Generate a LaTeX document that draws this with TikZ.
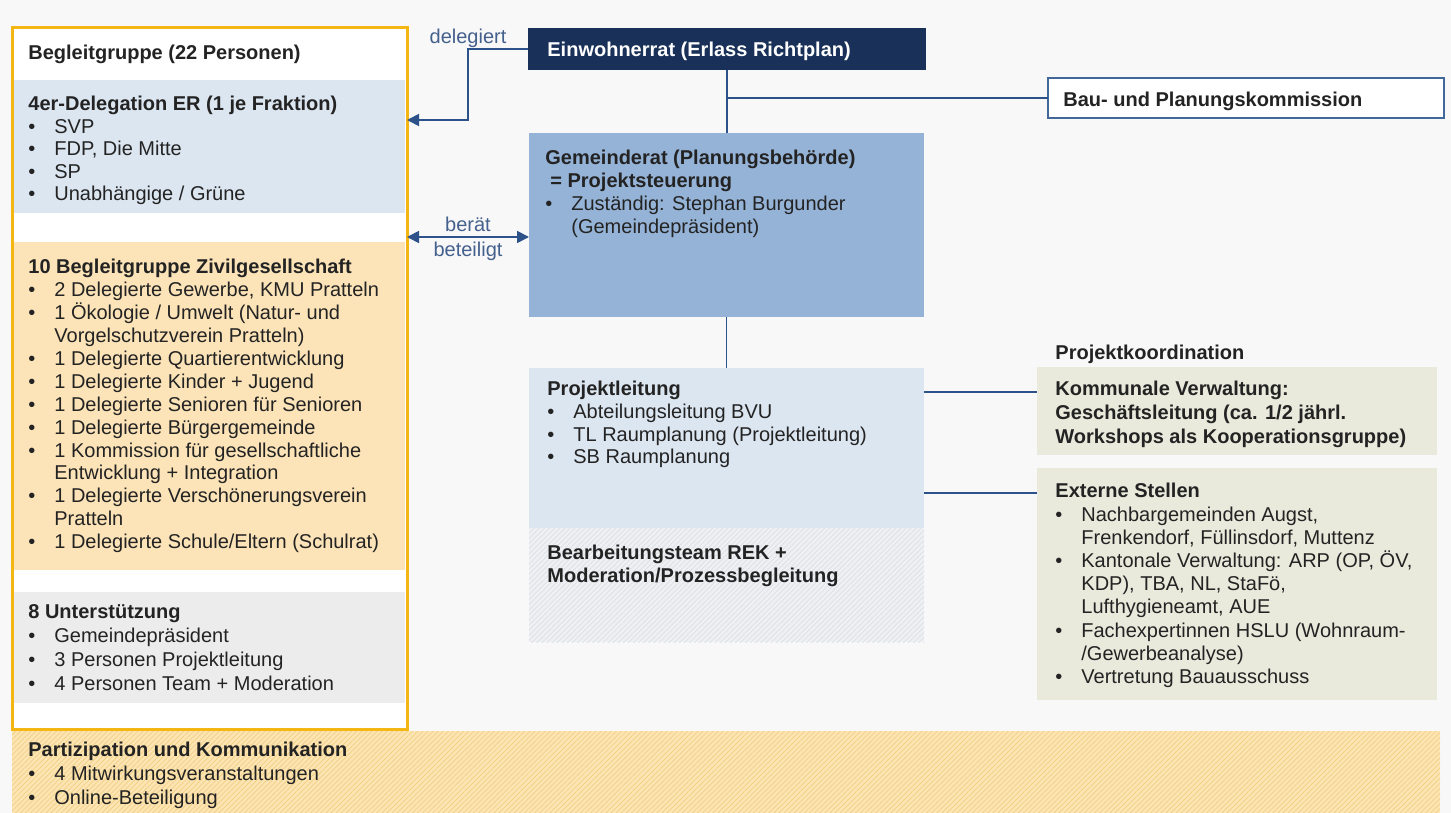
\documentclass[tikz,border=0pt]{standalone}
\usepackage{fontspec}
\setmainfont{Liberation Sans}
\usetikzlibrary{arrows.meta,patterns.meta}

\definecolor{hinter}{RGB}{248,248,249}
\definecolor{gelb}{RGB}{244,182,18}
\definecolor{navy}{RGB}{25,49,88}
\definecolor{mittelblau}{RGB}{149,179,215}
\definecolor{hellblau}{RGB}{220,230,241}
\definecolor{hellorange}{RGB}{252,228,184}
\definecolor{hellgrau}{RGB}{236,236,236}
\definecolor{beige}{RGB}{233,234,220}
\definecolor{linie}{RGB}{45,82,138}
\definecolor{rahmen}{RGB}{66,104,155}
\definecolor{labelblau}{RGB}{68,96,140}
\definecolor{schrift}{RGB}{35,35,35}
\definecolor{grundgelb}{RGB}{252,229,178}
\definecolor{schraffgelb}{RGB}{242,206,132}
\definecolor{grundgrau}{RGB}{238,240,243}
\definecolor{schraffgrau}{RGB}{220,223,228}

\newcommand{\bl}{\makebox[13pt][l]{\textbullet}}
\newcommand{\ein}{\hspace*{13pt}}

\tikzset{
  feld/.style={anchor=north west, inner sep=0pt, outer sep=0pt},
  txt/.style={anchor=north west, inner sep=0pt, align=left, text=schrift,
    font=\fontsize{10}{11.5}\selectfont},
  kopf/.style={txt, font=\fontsize{10}{11.5}\selectfont\bfseries},
  lbl/.style={inner sep=0pt, text=labelblau, font=\fontsize{10}{11.5}\selectfont},
  verb/.style={draw=linie, line width=0.9pt},
  pfeil/.style={verb, -{Triangle[length=6pt,width=6pt]}},
  pfeilzwei/.style={verb, {Triangle[length=6pt,width=6pt]}-{Triangle[length=6pt,width=6pt]}},
}

\begin{document}
\begin{tikzpicture}[x=0.5pt,y=-0.5pt]
  \useasboundingbox (0,0) rectangle (1451,813);
  \fill[hinter] (0,0) rectangle (1451,813);

  \node[feld, draw=gelb, line width=1.5pt, fill=white, minimum width=197.5pt, minimum height=350.5pt] (begl) at (12,28) {};
  \node[feld, fill=hellblau, minimum width=195.5pt, minimum height=66.5pt] (deleg) at (14,80) {};
  \node[feld, fill=hellorange, minimum width=195.5pt, minimum height=164pt] (zivil) at (14,242) {};
  \node[feld, fill=hellgrau, minimum width=195.5pt, minimum height=55.5pt] (unter) at (14,592) {};

  \node[feld, fill=navy, minimum width=199pt, minimum height=21pt] (einw) at (528,28) {};
  \node[feld, fill=white, draw=rahmen, line width=0.9pt, minimum width=198pt, minimum height=20pt] (bau) at (1048,78) {};
  \node[feld, fill=mittelblau, minimum width=197.5pt, minimum height=92pt] (gemrat) at (529,133) {};
  \node[feld, fill=hellblau, minimum width=197.5pt, minimum height=80pt] (pleit) at (529,368) {};
  \node[feld, preaction={fill=grundgrau}, pattern={Lines[angle=45,distance=1.8pt,line width=0.35pt]}, pattern color=schraffgrau, minimum width=197.5pt, minimum height=57pt] (bearb) at (529,528) {};
  \node[feld, fill=beige, minimum width=200pt, minimum height=44pt] (komm) at (1037,367) {};
  \node[feld, fill=beige, minimum width=200pt, minimum height=116pt] (extern) at (1037,468) {};
  \node[feld, preaction={fill=grundgelb}, pattern={Lines[angle=45,distance=1.8pt,line width=0.35pt]}, pattern color=schraffgelb, minimum width=714pt, minimum height=41pt] (partiz) at (12,731) {};

  \node[kopf] (tbegl) at (28,45) {Begleitgruppe (22 Personen)};
  \node[txt, font=\fontsize{10}{11.25}\selectfont] (tdeleg) at (28,96) {\textbf{4er-Delegation ER (1 je Fraktion)}\\
    \bl SVP\\
    \bl FDP, Die Mitte\\
    \bl SP\\
    \bl Unabhängige / Grüne};
  \node[txt, font=\fontsize{10}{11.45}\selectfont] (tzivil) at (28,259) {\textbf{10 Begleitgruppe Zivilgesellschaft}\\
    \bl 2 Delegierte Gewerbe, KMU Pratteln\\
    \bl 1 Ökologie / Umwelt (Natur- und\\
    \ein Vorgelschutzverein Pratteln)\\
    \bl 1 Delegierte Quartierentwicklung\\
    \bl 1 Delegierte Kinder + Jugend\\
    \bl 1 Delegierte Senioren für Senioren\\
    \bl 1 Delegierte Bürgergemeinde\\
    \bl 1 Kommission für gesellschaftliche\\
    \ein Entwicklung + Integration\\
    \bl 1 Delegierte Verschönerungsverein\\
    \ein Pratteln\\
    \bl 1 Delegierte Schule/Eltern (Schulrat)};
  \node[txt, font=\fontsize{10}{12}\selectfont] (tunter) at (28,604) {\textbf{8 Unterstützung}\\
    \bl Gemeindepräsident\\
    \bl 3 Personen Projektleitung\\
    \bl 4 Personen Team + Moderation};

  \node[kopf, text=white] (teinw) at (547,42) {Einwohnerrat (Erlass Richtplan)};
  \node[kopf] (tbau) at (1063,92) {Bau- und Planungskommission};
  \node[txt] (tgemrat) at (545,150) {\textbf{Gemeinderat (Planungsbehörde)}\\
    \hspace*{2.5pt}\textbf{= Projektsteuerung}\\
    \bl Zuständig: Stephan Burgunder\\
    \ein (Gemeindepräsident)};
  \node[txt, font=\fontsize{10}{11.35}\selectfont] (tpleit) at (547,381) {\textbf{Projektleitung}\\
    \bl Abteilungsleitung BVU\\
    \bl TL Raumplanung (Projektleitung)\\
    \bl SB Raumplanung};
  \node[kopf] (tbearb) at (547,545) {Bearbeitungsteam REK +\\Moderation/Prozessbegleitung};

  \node[kopf] (tkoord) at (1055,345) {Projektkoordination};
  \node[kopf, font=\fontsize{10}{12}\selectfont\bfseries] (tkomm) at (1055,381) {Kommunale Verwaltung:\\
    Geschäftsleitung (ca. 1/2 jährl.\\
    Workshops als Kooperationsgruppe)};
  \node[txt, font=\fontsize{10}{11.6}\selectfont] (textern) at (1055,483) {\textbf{Externe Stellen}\\
    \bl Nachbargemeinden Augst,\\
    \ein Frenkendorf, Füllinsdorf, Muttenz\\
    \bl Kantonale Verwaltung: ARP (OP, ÖV,\\
    \ein KDP), TBA, NL, StaFö,\\
    \ein Lufthygieneamt, AUE\\
    \bl Fachexpertinnen HSLU (Wohnraum-\\
    \ein /Gewerbeanalyse)\\
    \bl Vertretung Bauausschuss};
  \node[txt, font=\fontsize{10}{12}\selectfont] (tpartiz) at (28,742) {\textbf{Partizipation und Kommunikation}\\
    \bl 4 Mitwirkungsveranstaltungen\\
    \bl Online-Beteiligung};

  \coordinate (dlg) at (468,120);
  \coordinate (brt) at (468,237);
  \coordinate (k1) at (980,392);
  \coordinate (k2) at (980,493);

  \node[lbl] (tdlg) at (468,38) {delegiert};
  \draw[pfeil] (einw.west) -| (dlg) -- (dlg -| begl.east);
  \draw[pfeilzwei] (brt -| begl.east) -- node[lbl, above=2pt] (tbrt) {berät} node[lbl, below=2pt] (tbet) {beteiligt} (brt -| gemrat.west);
  \draw[verb] (einw.south) -- (einw.south |- gemrat.north);
  \draw[verb] (einw.south |- bau.west) -- (bau.west);
  \draw[verb] (gemrat.south) -- (pleit.north);
  \draw[verb] (pleit.east |- k1) -- (komm.west |- k1);
  \draw[verb] (pleit.east |- k2) -- (extern.west |- k2);

\end{tikzpicture}
\end{document}
